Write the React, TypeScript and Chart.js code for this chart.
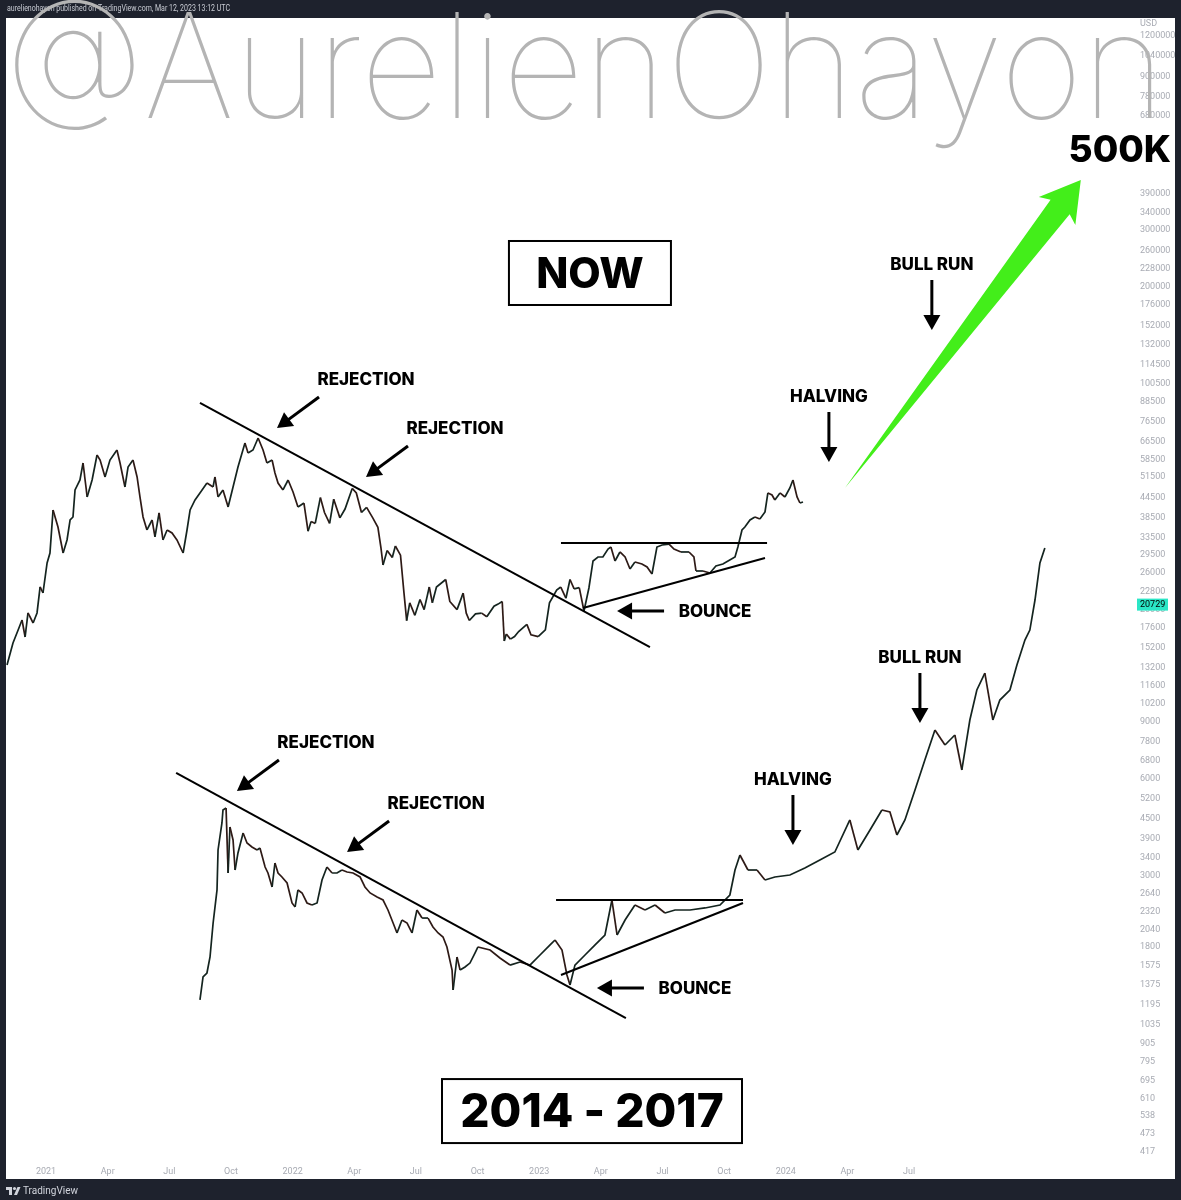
import React, { useEffect, useRef } from "react";
import { Chart, registerables } from "chart.js";

Chart.register(...registerables);

// ---------- DATA (x = months since Jan 2021, y = price in USD on the log price scale) ----------
const nowMonths = [
  -1.9, -1.61, -1.36, -1.17, -1.02, -0.88, -0.63, -0.44, -0.29, -0.15, 0.05, 0.19, 0.34, 0.58, 0.83, 1.02, 1.17, 1.31, 1.41, 1.65,
  1.8, 2.0, 2.24, 2.48, 2.63, 2.87, 3.11, 3.45, 3.6, 3.84, 3.99, 4.23, 4.43, 4.57, 4.72, 4.91, 5.16, 5.3, 5.5, 5.69,
  5.89, 6.13, 6.37, 6.67, 6.86, 7.01, 7.25, 7.49, 7.83, 8.13, 8.22, 8.37, 8.61, 8.86, 9.1, 9.34, 9.68, 9.83, 10.07, 10.32,
  10.56, 10.75, 11.0, 11.14, 11.29, 11.53, 11.78, 12.02, 12.26, 12.55, 12.75, 12.9, 13.1, 13.35, 13.55, 13.8, 14.0, 14.3, 14.55, 14.9,
  15.1, 15.35, 15.6, 15.9, 16.15, 16.3, 16.4, 16.6, 16.85, 17.0, 17.25, 17.42, 17.55, 17.7, 17.95, 18.2, 18.4, 18.65, 18.8, 19.0,
  19.45, 19.65, 20.0, 20.3, 20.45, 20.6, 20.9, 21.2, 21.45, 21.8, 22.0, 22.2, 22.3, 22.4, 22.6, 22.8, 23.0, 23.4, 23.6, 23.95,
  24.3, 24.5, 24.85, 25.05, 25.3, 25.5, 25.7, 25.95, 26.18, 26.42, 26.62, 26.86, 27.1, 27.35, 27.49, 27.69, 27.93, 28.18, 28.42, 28.66,
  29.0, 29.25, 29.49, 29.73, 29.98, 30.32, 30.56, 30.9, 31.29, 31.53, 31.63, 31.97, 32.31, 32.6, 32.94, 33.19, 33.53, 33.67, 33.87, 34.01,
  34.26, 34.5, 34.74, 34.99, 35.13, 35.33, 35.47, 35.72, 35.96, 36.2, 36.35, 36.55, 36.69, 36.84,
];
const nowPrices = [
  13470, 15760, 17290, 18570, 16450, 19530, 18180, 19530, 23510, 22520, 27900, 29960, 40730, 36070, 29960, 32880, 37920, 38740, 46980, 50450,
  56960, 44690, 50450, 60310, 58190, 51540, 58190, 62500, 56960, 48000, 55350, 58190, 51540, 44690, 38740, 35310, 37920, 33590, 39870, 32880,
  35310, 34560, 32880, 29960, 35310, 40730, 43740, 45990, 49380, 48000, 51540, 44690, 46980, 41610, 48000, 55350, 65700, 61180, 62500, 68090,
  62500, 56960, 58190, 53030, 49380, 46980, 50450, 46310, 41610, 42800, 35000, 37500, 37000, 44500, 40000, 37000, 44000, 38500, 41000, 47500,
  46000, 40000, 41500, 38500, 36000, 31000, 27500, 30500, 29000, 31500, 29500, 22500, 18500, 21000, 19200, 21500, 20000, 23500, 21000, 23500,
  24800, 21200, 20000, 22500, 19500, 18500, 19400, 19500, 19000, 20500, 20800, 21200, 16000, 16800, 16200, 16500, 17100, 18000, 16700, 16500,
  17300, 21000, 23000, 23500, 21700, 24800, 23200, 23400, 19810, 23340, 28300, 29120, 29120, 30830, 31270, 28300, 30180, 29120, 26730, 28100,
  27700, 27110, 25790, 31270, 31720, 31940, 30830, 30180, 30180, 29120, 26350, 26350, 25980, 27310, 27700, 28300, 29120, 31270, 35310, 36070,
  37920, 38740, 38190, 40150, 45990, 45340, 43740, 45990, 44690, 47660, 50450, 44690, 42810, 43120,
];

const fractalMonths = [
  7.49, 7.64, 7.83, 7.98, 8.13, 8.32, 8.37, 8.56, 8.61, 8.76, 8.86, 8.95, 9.1, 9.2, 9.34, 9.59, 9.78, 10.02, 10.27, 10.41,
  10.66, 10.8, 11.0, 11.14, 11.29, 11.48, 11.73, 11.97, 12.12, 12.26, 12.46, 12.7, 12.94, 13.19, 13.43, 13.67, 13.92, 14.16, 14.4, 14.65,
  14.94, 15.28, 15.52, 15.77, 16.11, 16.4, 16.64, 16.89, 17.08, 17.32, 17.57, 17.81, 18.05, 18.3, 18.59, 18.83, 19.08, 19.32, 19.51, 19.76,
  19.81, 20.0, 20.15, 20.39, 20.63, 20.88, 21.02, 21.61, 22.09, 22.58, 23.07, 23.55, 24.04, 24.53, 24.77, 25.11, 25.35, 25.5, 25.74, 26.23,
  26.72, 27.2, 27.54, 27.79, 28.18, 28.66, 29.15, 29.64, 30.12, 30.61, 31.34, 32.07, 32.8, 33.28, 33.53, 33.77, 34.16, 34.6, 34.99, 35.47,
  36.2, 36.93, 37.66, 38.39, 39.12, 39.51, 40.1, 40.68, 41.07, 41.41, 41.8, 42.29, 42.77, 43.26, 43.75, 44.23, 44.57, 44.96, 45.3, 45.69,
  46.08, 46.42, 46.91, 47.25, 47.64, 47.88, 48.13, 48.37, 48.61,
];
const fractalPrices = [
  1233, 1453, 1495, 1676, 2136, 2704, 3597, 4362, 4786, 4855, 3052, 4239, 3863, 3118, 3521, 4061, 3781, 3675, 3597, 3649,
  3185, 3052, 2762, 3278, 3052, 2967, 2842, 2464, 2395, 2704, 2647, 2464, 2429, 2464, 2904, 3185, 3052, 3052, 3118, 3074,
  3052, 2967, 2762, 2647, 2571, 2517, 2344, 2136, 1989, 2182, 2136, 1989, 2344, 2213, 2213, 2076, 1989, 1933, 1800, 1527,
  1324, 1676, 1527, 1560, 1605, 1725, 1800, 1762, 1664, 1582, 1617, 1582, 1700, 1826, 1892, 1762, 1474, 1372, 1582, 1700,
  1826, 1961, 2517, 1961, 2182, 2429, 2344, 2429, 2294, 2344, 2344, 2378, 2429, 2609, 3118, 3471, 3118, 3118, 2904, 2967,
  3009, 3163, 3349, 3546, 4456, 3597, 4149, 4786, 4718, 4003, 4456, 5520, 6838, 8470, 7611, 8174, 6367, 9097, 11270, 12720,
  9097, 10490, 11270, 13470, 16100, 17290, 21420, 27900, 31050,
];

const xTickMonths = [0, 3, 6, 9, 12, 15, 18, 21, 24, 27, 30, 33, 36, 39, 42];
const xTickLabels = ["2021", "Apr", "Jul", "Oct", "2022", "Apr", "Jul", "Oct", "2023", "Apr", "Jul", "Oct", "2024", "Apr", "Jul"];
const yTickValues = [
  1200000, 1040000, 900000, 780000, 680000, 390000, 340000, 300000, 260000, 228000, 200000, 176000, 152000, 132000, 114500,
  100500, 88500, 76500, 66500, 58500, 51500, 44500, 38500, 33500, 29500, 26000, 22800, 20000, 17600, 15200, 13200, 11600,
  10200, 9000, 7800, 6800, 6000, 5200, 4500, 3900, 3400, 3000, 2640, 2320, 2040, 1800, 1575, 1375, 1195, 1035, 905, 795,
  695, 610, 538, 473, 417,
];
const lastPrice = 20729;
const xRange = [-1.95, 52.9];
const yRange = [393.5, 1364500];

// annotation anchors in data units [month, price]
const trendLines = [
  { from: [7.49, 87410], to: [29.39, 15310] },
  { from: [25.06, 32180], to: [35.09, 32180] },
  { from: [26.13, 20240], to: [34.99, 28910] },
  { from: [6.33, 6232], to: [28.22, 1084] },
  { from: [24.82, 2517], to: [33.92, 2517] },
  { from: [25.06, 1474], to: [33.92, 2464] },
];
const callouts = [
  { text: "REJECTION", tip: [11.24, 73130], dir: "downleft" },
  { text: "REJECTION", tip: [15.57, 51540], dir: "downleft" },
  { text: "BOUNCE", tip: [27.79, 19810], dir: "left" },
  { text: "HALVING", tip: [38.1, 57370], dir: "down" },
  { text: "BULL RUN", tip: [43.11, 147180], dir: "down" },
  { text: "REJECTION", tip: [9.29, 5481], dir: "downleft" },
  { text: "REJECTION", tip: [14.65, 3546], dir: "downleft" },
  { text: "BOUNCE", tip: [26.81, 1343], dir: "left" },
  { text: "HALVING", tip: [36.35, 3727], dir: "down" },
  { text: "BULL RUN", tip: [42.53, 8904], dir: "down" },
];
const titleBoxes = [
  { text: "NOW", at: [26.47, 221070], w: 162, h: 64, size: 42 },
  { text: "2014 - 2017", at: [26.57, 558], w: 300, h: 64, size: 46 },
];
const targetLabel = { text: "500K", at: [52.26, 531900] };
const targetArrow = { from: [38.88, 47660], to: [50.36, 429300] };

const headerText = "aurelienohayon published on TradingView.com, Mar 12, 2023 13:12 UTC";
const watermarkText = "@AurelienOhayon";

const DARK = "#1e222d";
const BOLD = '"Inter", "Open Sans", "Liberation Sans", sans-serif';

function arrowHead(ctx: CanvasRenderingContext2D, tx: number, ty: number, ux: number, uy: number, len: number, half: number) {
  const bx = tx - ux * len, by = ty - uy * len;
  ctx.beginPath();
  ctx.moveTo(tx, ty);
  ctx.lineTo(bx - uy * half, by + ux * half);
  ctx.lineTo(bx + uy * half, by - ux * half);
  ctx.closePath();
  ctx.fill();
}

const overlayPlugin = {
  id: "overlay",
  beforeDraw(chart: any) {
    const ctx = chart.ctx as CanvasRenderingContext2D;
    const ca = chart.chartArea;
    ctx.save();
    ctx.fillStyle = DARK;
    ctx.fillRect(0, 0, chart.width, chart.height);
    ctx.fillStyle = "#ffffff";
    ctx.fillRect(ca.left, ca.top, chart.width - 6 - ca.left, chart.height - 21 - ca.top);
    ctx.restore();
  },
  afterDraw(chart: any) {
    const ctx = chart.ctx as CanvasRenderingContext2D;
    const xs = chart.scales.x;
    const ys = chart.scales.y;
    const P = (p: number[]) => [xs.getPixelForValue(p[0]), ys.getPixelForValue(p[1])];
    ctx.save();

    // trend lines
    ctx.strokeStyle = "#000";
    ctx.lineWidth = 2;
    ctx.lineCap = "butt";
    for (const t of trendLines) {
      const [x1, y1] = P(t.from);
      const [x2, y2] = P(t.to);
      ctx.beginPath();
      ctx.moveTo(x1, y1);
      ctx.lineTo(x2, y2);
      ctx.stroke();
    }

    // callouts
    ctx.fillStyle = "#000";
    ctx.font = `800 17px ${BOLD}`;
    ctx.textAlign = "center";
    ctx.textBaseline = "middle";
    for (const c of callouts) {
      const [tx, ty] = P(c.tip);
      let dx = 0, dy = 0, lx = 0, ly = 0;
      if (c.dir === "down") { dx = 0; dy = -50; lx = 0; ly = -66; }
      else if (c.dir === "downleft") { dx = 42; dy = -31; lx = 89; ly = -49; }
      else { dx = 47; dy = 0; lx = 98; ly = 0; }
      const len = Math.hypot(dx, dy);
      const ux = -dx / len, uy = -dy / len;
      ctx.lineWidth = 3;
      ctx.beginPath();
      ctx.moveTo(tx + dx, ty + dy);
      ctx.lineTo(tx - ux * 12, ty - uy * 12);
      ctx.stroke();
      arrowHead(ctx, tx, ty, ux, uy, 15, 8.5);
      ctx.fillText(c.text, tx + lx, ty + ly + 1);
    }

    // title boxes
    for (const b of titleBoxes) {
      const [cx, cy] = P(b.at);
      ctx.fillStyle = "#ffffff";
      ctx.fillRect(cx - b.w / 2, cy - b.h / 2, b.w, b.h);
      ctx.lineWidth = 2;
      ctx.strokeStyle = "#000";
      ctx.strokeRect(cx - b.w / 2, cy - b.h / 2, b.w, b.h);
      ctx.fillStyle = "#000";
      ctx.font = `800 ${b.size}px ${BOLD}`;
      ctx.fillText(b.text, cx, cy + 2);
    }

    // green target arrow
    {
      const [x1, y1] = P(targetArrow.from);
      const [x2, y2] = P(targetArrow.to);
      const L = Math.hypot(x2 - x1, y2 - y1);
      const ux = (x2 - x1) / L, uy = (y2 - y1) / L;
      const nx = -uy, ny = ux;
      const pt = (a: number, n: number) => [x2 + ux * a + nx * n, y2 + uy * a + ny * n];
      const pts = [pt(0, 0), pt(-39, 23), pt(-34, 12), pt(-L, 0), pt(-34, -12), pt(-39, -23)];
      ctx.fillStyle = "#43ee1a";
      ctx.beginPath();
      ctx.moveTo(pts[0][0], pts[0][1]);
      for (let i = 1; i < pts.length; i++) ctx.lineTo(pts[i][0], pts[i][1]);
      ctx.closePath();
      ctx.fill();
    }

    // 500K label
    {
      const [cx, cy] = P(targetLabel.at);
      ctx.fillStyle = "#000";
      ctx.font = `800 37px ${BOLD}`;
      ctx.fillText(targetLabel.text, cx, cy + 1);
    }

    // last price badge
    {
      const by = ys.getPixelForValue(lastPrice);
      const bx = chart.chartArea.right + 4;
      ctx.fillStyle = "#2ae6c6";
      ctx.fillRect(bx, by - 6, 31, 12);
      ctx.fillStyle = "#000";
      ctx.font = "9px Roboto, sans-serif";
      ctx.textAlign = "left";
      ctx.fillText(String(lastPrice), bx + 3, by + 0.5);
    }

    // USD unit
    ctx.fillStyle = "#a8abb3";
    ctx.font = "9px Roboto, sans-serif";
    ctx.textAlign = "left";
    ctx.fillText("USD", chart.chartArea.right + 7, chart.chartArea.top + 6);

    // header text
    {
      ctx.fillStyle = "#c9ccd4";
      ctx.font = "9px Roboto, sans-serif";
      ctx.textBaseline = "middle";
      const w = ctx.measureText(headerText).width;
      ctx.save();
      ctx.translate(7, 9);
      ctx.scale(223 / w, 1);
      ctx.fillText(headerText, 0, 0);
      ctx.restore();
    }

    // footer logo
    {
      const fy = chart.height - 9;
      ctx.fillStyle = "#d1d4dc";
      ctx.fillRect(6, fy - 4, 6, 3);
      ctx.fillRect(9, fy - 4, 3, 8);
      ctx.beginPath();
      ctx.arc(14.5, fy - 2.5, 1.6, 0, Math.PI * 2);
      ctx.fill();
      ctx.beginPath();
      ctx.moveTo(14, fy + 4);
      ctx.lineTo(17.5, fy - 4);
      ctx.lineTo(20.5, fy - 4);
      ctx.lineTo(17, fy + 4);
      ctx.closePath();
      ctx.fill();
      ctx.font = "10px Roboto, sans-serif";
      ctx.textAlign = "left";
      ctx.fillText("TradingView", 23, fy);
    }

    // watermark
    {
      ctx.fillStyle = "#b4b4b4";
      ctx.font = '100 146px "Inter", Roboto, "Open Sans", sans-serif';
      ctx.textAlign = "left";
      ctx.textBaseline = "alphabetic";
      const w = ctx.measureText(watermarkText).width;
      ctx.save();
      ctx.translate(5, 118);
      ctx.scale(1160 / w, 1);
      ctx.fillText(watermarkText, 0, 0);
      ctx.restore();
    }

    ctx.restore();
  },
};

export default function App() {
  const ref = useRef<HTMLCanvasElement | null>(null);
  useEffect(() => {
    if (!ref.current) return;
    const nowData = nowMonths.map((m, i) => ({ x: m, y: nowPrices[i] }));
    const fracData = fractalMonths.map((m, i) => ({ x: m, y: fractalPrices[i] }));
    const seg = {
      borderColor: (c: any) => (c.p1.parsed.y >= c.p0.parsed.y ? "#14241f" : "#2e1a16"),
    };
    const chart = new Chart(ref.current, {
      type: "line",
      data: {
        datasets: [
          { label: "NOW", data: nowData, borderColor: "#111", borderWidth: 1.7, pointRadius: 0, tension: 0, segment: seg },
          { label: "2014 - 2017", data: fracData, borderColor: "#111", borderWidth: 1.7, pointRadius: 0, tension: 0, segment: seg },
        ],
      },
      options: {
        animation: false,
        responsive: false,
        devicePixelRatio: 1,
        layout: { padding: { left: 6, top: 18, right: 6, bottom: 21 } },
        plugins: { legend: { display: false }, tooltip: { enabled: false } },
        events: [],
        scales: {
          x: {
            type: "linear",
            min: xRange[0],
            max: xRange[1],
            position: "bottom",
            grid: { display: false, drawTicks: false },
            border: { display: false },
            afterBuildTicks: (s: any) => {
              s.ticks = xTickMonths.map((v) => ({ value: v }));
            },
            afterFit: (s: any) => {
              s.height = 19;
            },
            ticks: {
              autoSkip: false,
              maxRotation: 0,
              padding: 6,
              color: "#a8abb3",
              font: { size: 9, family: "Roboto, sans-serif" },
              callback: (v: any) => {
                const i = xTickMonths.indexOf(Number(v));
                return i >= 0 ? xTickLabels[i] : "";
              },
            },
          },
          y: {
            type: "logarithmic",
            position: "right",
            min: yRange[0],
            max: yRange[1],
            grid: { display: false, drawTicks: false },
            border: { display: false },
            afterBuildTicks: (s: any) => {
              s.ticks = yTickValues.map((v) => ({ value: v }));
            },
            afterFit: (s: any) => {
              s.width = 42;
            },
            ticks: {
              autoSkip: false,
              padding: 7,
              color: "#a8abb3",
              font: { size: 9, family: "Roboto, sans-serif" },
              callback: (v: any) => String(v),
            },
          },
        },
      },
      plugins: [overlayPlugin],
    } as any);
    return () => chart.destroy();
  }, []);
  return (
    <div style={{ position: "absolute", left: 0, top: 0, width: 1181, height: 1200, background: DARK }}>
      <canvas ref={ref} width={1181} height={1200} style={{ display: "block", width: 1181, height: 1200 }} />
    </div>
  );
}
